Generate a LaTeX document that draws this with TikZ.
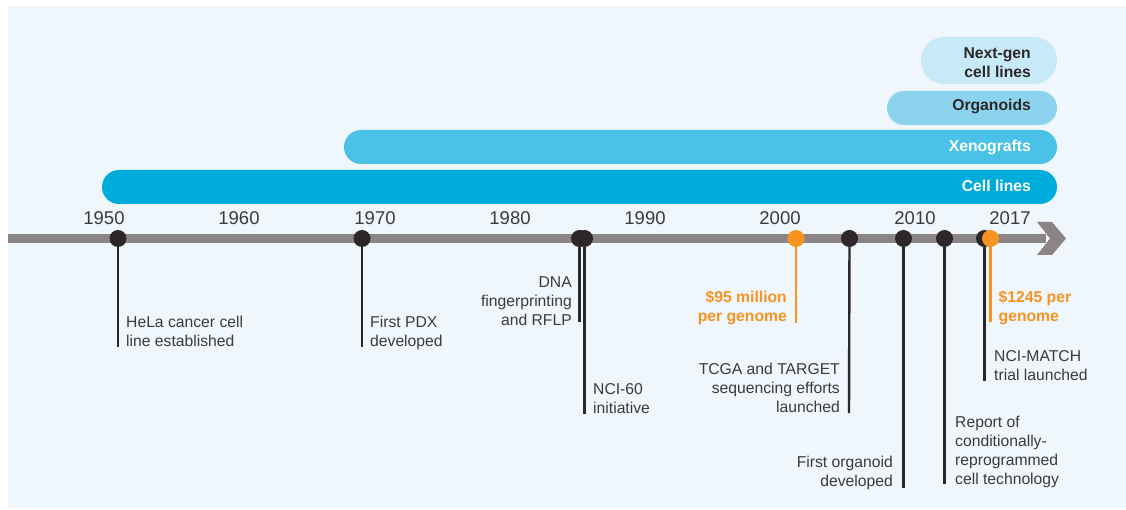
\documentclass[tikz,border=0pt]{standalone}
\usepackage{fontspec}
\setmainfont{Liberation Sans}
\definecolor{bgblue}{RGB}{239,247,252}
\definecolor{axisgray}{RGB}{138,132,135}
\definecolor{dotgray}{RGB}{45,39,41}
\definecolor{textgray}{RGB}{60,58,59}
\definecolor{costorange}{RGB}{247,147,30}
\definecolor{cellblue}{RGB}{0,172,220}
\definecolor{xenoblue}{RGB}{74,193,230}
\definecolor{orgblue}{RGB}{140,212,238}
\definecolor{nextblue}{RGB}{200,233,247}
\begin{document}
\begin{tikzpicture}[x = 1pt, y = -1pt,
	dot/.style = {circle, fill = dotgray, minimum size = 17pt, inner sep = 0},
	stem/.style = {dotgray, line width = 2.4pt},
	note/.style = {text = textgray, inner sep = 0, font = \fontsize{15.7}{19}\selectfont},
	cost/.style = {text = costorange, inner sep = 0, font = \fontsize{15.7}{19}\selectfont\bfseries},
	barlabel/.style = {inner sep = 0, anchor = east, align = right, font = \fontsize{15.7}{19}\selectfont\bfseries}]
\useasboundingbox (0, 0) rectangle (1126, 510);
\fill [bgblue] (8, 6) rectangle (1126, 508);

% model bars
\fill [cellblue, rounded corners = 17pt] (102, 170) rectangle (1057, 204);
\fill [xenoblue, rounded corners = 17pt] (344, 130) rectangle (1057, 164);
\fill [orgblue, rounded corners = 17pt] (887, 91) rectangle (1057, 125);
\fill [nextblue, rounded corners = 23pt] (921, 37) rectangle (1057, 84);
\node (cells) [barlabel, text = white] at (1031, 186) {Cell lines};
\node (xeno) [barlabel, text = white] at (1031, 147) {Xenografts};
\node (orgs) [barlabel, text = dotgray] at (1031, 106) {Organoids};
\node (nextgen) [barlabel, text = dotgray] at (1031, 62.5) {Next-gen\\cell lines};

% time axis
\coordinate (axis-start) at (8, 238.5);
\coordinate (axis-end) at (1046, 238.5);
\draw [axisgray, line width = 9pt] (axis-start) -- (axis-end);
\fill [axisgray] (1037, 222) -- (1052, 222) -- (1066, 238.5) -- (1052, 255) -- (1037, 255) -- (1050, 238.5) -- cycle;
\foreach \yr/\xx in {1950/104, 1960/239, 1970/375, 1980/510, 1990/645, 2000/780, 2010/915, 2017/1010}{
	\node (y\yr) [text = textgray, anchor = base, inner sep = 0, font = \fontsize{18.5}{20}\selectfont] at (\xx, 225) {\yr};
};

% events
\coordinate (hela-end) at (118, 347);
\coordinate (pdx-end) at (362, 347);
\coordinate (dna-end) at (579.5, 322);
\coordinate (nci-end) at (584.5, 414);
\coordinate (cost01-end) at (796, 323);
\coordinate (tcga-end) at (849, 413);
\coordinate (organoid-end) at (903.5, 488);
\coordinate (crc-end) at (944.5, 484);
\coordinate (match-end) at (984.5, 381);
\coordinate (cost15-end) at (990.5, 322);

\node (hela) [dot] at (118, 238.5) {};
\node (pdx) [dot] at (362, 238.5) {};
\node (dna) [dot] at (579.5, 238.5) {};
\node (nci) [dot] at (584.5, 238.5) {};
\node (cost01) [dot, fill = costorange] at (796, 238.5) {};
\node (tcga) [dot] at (849.5, 238.5) {};
\node (organoid) [dot] at (903.5, 238.5) {};
\node (crc) [dot] at (944.5, 238.5) {};
\node (match) [dot] at (984.5, 238.5) {};
\node (cost15) [dot, fill = costorange] at (990.5, 238.5) {};

\draw [stem] (hela) -- (hela-end);
\draw [stem] (pdx) -- (pdx-end);
\draw [stem] (dna) -- (dna-end);
\draw [stem] (nci) -- (nci-end);
\draw [stem, costorange] (cost01) -- (cost01-end);
\draw [stem] (tcga) -- (tcga-end);
\draw [stem] (organoid) -- (organoid-end);
\draw [stem] (crc) -- (crc-end);
\draw [stem] (match) -- (match-end);
\draw [stem, costorange] (cost15) -- (cost15-end);

\node (hela-txt) [note, anchor = north west, align = left] at (126, 316) {HeLa cancer cell\\line established};
\node (pdx-txt) [note, anchor = north west, align = left] at (370, 316) {First PDX\\developed};
\node (dna-txt) [note, anchor = north east, align = right] at (572, 276) {DNA\\fingerprinting\\and RFLP};
\node (nci-txt) [note, anchor = north west, align = left] at (593, 383) {NCI-60\\initiative};
\node (cost01-txt) [cost, anchor = north east, align = right] at (787, 291) {\$95 million\\per genome};
\node (tcga-txt) [note, anchor = north east, align = right] at (840, 363) {TCGA and TARGET\\sequencing efforts\\launched};
\node (organoid-txt) [note, anchor = north east, align = right] at (893, 456) {First organoid\\developed};
\node (crc-txt) [note, anchor = north west, align = left] at (955, 416) {Report of\\conditionally-\\reprogrammed\\cell technology};
\node (match-txt) [note, anchor = north west, align = left] at (994, 350) {NCI-MATCH\\trial launched};
\node (cost15-txt) [cost, anchor = north west, align = left] at (998.5, 291) {\$1245 per\\genome};
\end{tikzpicture}
\end{document}
